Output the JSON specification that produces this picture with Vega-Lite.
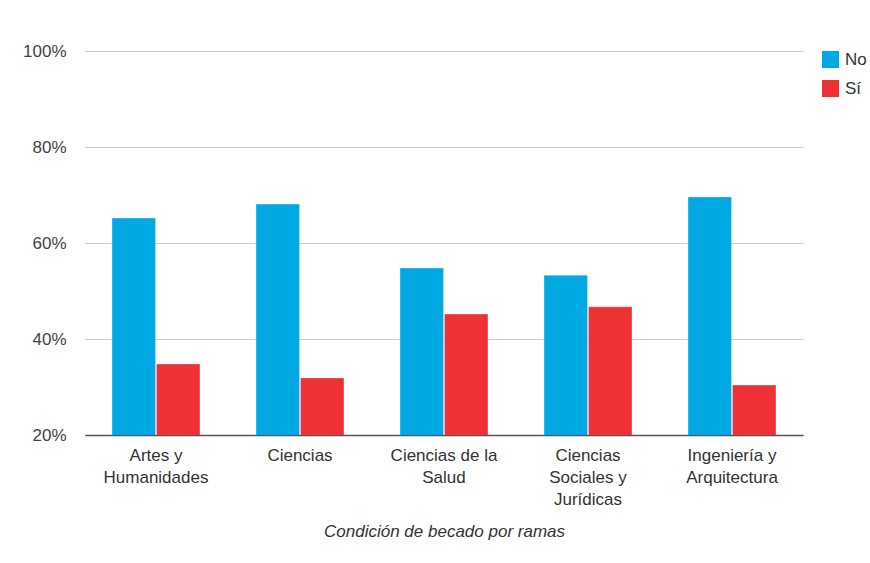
{
  "$schema": "https://vega.github.io/schema/vega-lite/v6.json",
  "autosize": {"type": "none"},
  "padding": {"left": 85, "top": 51, "right": 67, "bottom": 128},
  "width": 718,
  "height": 384,
  "background": "white",
  "config": {
    "view": {"stroke": null},
    "font": "Liberation Sans"
  },
  "data": {
    "values": [
      {"rama": "Artes y|Humanidades", "becado": "No", "pct": 0.652},
      {"rama": "Artes y|Humanidades", "becado": "Sí", "pct": 0.348},
      {"rama": "Ciencias", "becado": "No", "pct": 0.681},
      {"rama": "Ciencias", "becado": "Sí", "pct": 0.319},
      {"rama": "Ciencias de la|Salud", "becado": "No", "pct": 0.548},
      {"rama": "Ciencias de la|Salud", "becado": "Sí", "pct": 0.452},
      {"rama": "Ciencias|Sociales y|Jurídicas", "becado": "No", "pct": 0.533},
      {"rama": "Ciencias|Sociales y|Jurídicas", "becado": "Sí", "pct": 0.467},
      {"rama": "Ingeniería y|Arquitectura", "becado": "No", "pct": 0.696},
      {"rama": "Ingeniería y|Arquitectura", "becado": "Sí", "pct": 0.304}
    ]
  },
  "mark": {"type": "bar", "clip": true, "strokeWidth": 1, "strokeOpacity": 0.35, "stroke": "white"},
  "encoding": {
    "x": {
      "field": "rama",
      "type": "nominal",
      "sort": null,
      "scale": {"paddingInner": 0.389, "paddingOuter": 0.1875},
      "axis": {
        "title": "Condición de becado por ramas",
        "titleFont": "Liberation Sans",
        "titleFontSize": 17,
        "titleFontStyle": "italic",
        "titleFontWeight": "normal",
        "titleColor": "#333333",
        "titlePadding": 16,
        "labelExpr": "split(datum.label, '|')",
        "labelAngle": 0,
        "labelFont": "Liberation Sans",
        "labelFontSize": 17,
        "labelColor": "#333333",
        "labelLineHeight": 22,
        "labelPadding": 12,
        "labelBaseline": "top",
        "ticks": false,
        "domainColor": "#555555",
        "domainWidth": 1.5,
        "grid": false
      }
    },
    "xOffset": {"field": "becado", "type": "nominal", "scale": {"paddingInner": 0.02}},
    "y": {
      "field": "pct",
      "type": "quantitative",
      "scale": {"domain": [0.2, 1.0], "nice": false, "zero": false},
      "axis": {
        "title": null,
        "format": ".0%",
        "values": [0.2, 0.4, 0.6, 0.8, 1.0],
        "labelFont": "Liberation Sans",
        "labelFontSize": 17,
        "labelColor": "#444444",
        "labelPadding": 19,
        "ticks": false,
        "domain": false,
        "gridColor": "#cccccc",
        "gridWidth": 1
      }
    },
    "color": {
      "field": "becado",
      "type": "nominal",
      "scale": {"domain": ["No", "Sí"], "range": ["#00A8E4", "#EE3134"]},
      "legend": {
        "title": null,
        "orient": "right",
        "offset": 19,
        "symbolType": "square",
        "symbolSize": 289,
        "symbolStrokeWidth": 0,
        "labelFont": "Liberation Sans",
        "labelFontSize": 17,
        "labelColor": "#333333",
        "labelOffset": 6,
        "rowPadding": 11
      }
    }
  }
}
